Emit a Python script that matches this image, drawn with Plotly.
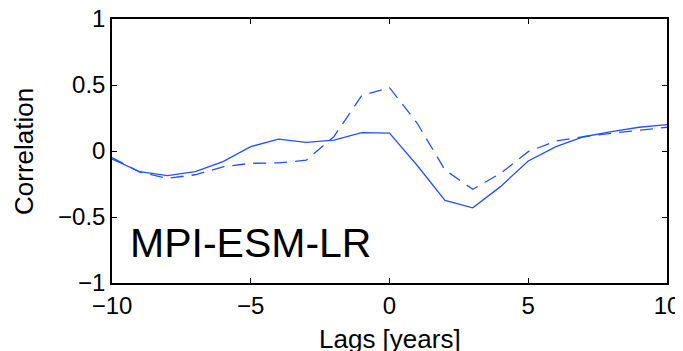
import plotly.graph_objects as go

lags = list(range(-10, 11))
solid_corr = [-0.06, -0.157, -0.187, -0.157, -0.08, 0.033, 0.09, 0.066, 0.083, 0.139, 0.136,
              -0.11, -0.374, -0.43, -0.27, -0.076, 0.033, 0.108, 0.146, 0.18, 0.2]
dashed_corr = [-0.05, -0.16, -0.207, -0.18, -0.12, -0.093, -0.09, -0.07, 0.11, 0.42, 0.48,
               0.21, -0.144, -0.29, -0.17, -0.005, 0.076, 0.108, 0.134, 0.159, 0.18]
x_ticks = [-10, -5, 0, 5, 10]
x_ticklabels = ["\u221210", "\u22125", "0", "5", "10"]
y_ticks = [-1, -0.5, 0, 0.5, 1]
y_ticklabels = ["\u22121", "\u22120.5", "0", "0.5", "1"]
model_label = "MPI-ESM-LR"
x_title = "Lags [years]"
y_title = "Correlation"

blue = "#2452ff"
font_family = "Liberation Sans, Arial, sans-serif"

fig = go.Figure()
fig.add_trace(go.Scatter(x=lags, y=solid_corr, mode="lines",
                         line=dict(color=blue, width=1.3), showlegend=False))
fig.add_trace(go.Scatter(x=lags, y=dashed_corr, mode="lines",
                         line=dict(color=blue, width=1.3, dash="13px,8px"), showlegend=False))

fig.add_annotation(x=-9.42, y=-0.70, xref="x", yref="y", text=model_label,
                   showarrow=False, xanchor="left", yanchor="middle",
                   font=dict(family=font_family, size=41, color="black"))
fig.add_annotation(x=0.5, y=-0.212, xref="paper", yref="paper", text=x_title,
                   showarrow=False, xanchor="center", yanchor="middle",
                   font=dict(family=font_family, size=26, color="black"))
fig.add_annotation(x=-0.1586, y=0.5, xref="paper", yref="paper", text=y_title,
                   showarrow=False, xanchor="center", yanchor="middle", textangle=-90,
                   font=dict(family=font_family, size=26, color="black"))

axis_common = dict(showline=True, linecolor="black", linewidth=1.5, mirror="ticks",
                   ticks="inside", ticklen=5, tickwidth=1, tickcolor="black",
                   showgrid=False, zeroline=False, automargin=False,
                   ticklabeloverflow="allow",
                   tickfont=dict(family=font_family, size=24, color="black"))

fig.update_xaxes(range=[-10, 10], tickvals=x_ticks, ticktext=x_ticklabels, **axis_common)
fig.update_yaxes(range=[-1, 1], tickvals=y_ticks, ticktext=y_ticklabels, **axis_common)

fig.update_layout(width=675, height=343, margin=dict(l=104, r=16, t=11, b=68),
                  paper_bgcolor="white", plot_bgcolor="white")

fig.write_html("out.html")
